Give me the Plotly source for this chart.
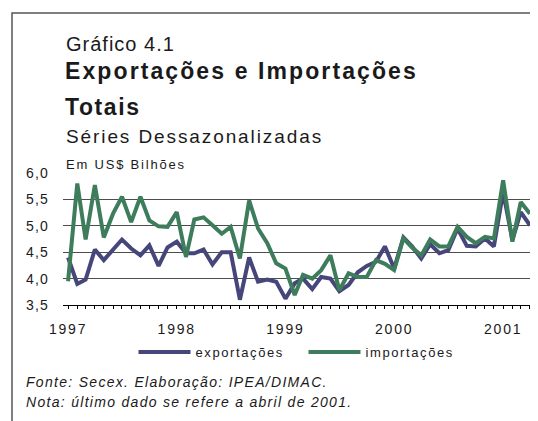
import plotly.graph_objects as go

# ---- data ----
months = [f"{y}-{m:02d}-01" for y in range(1997, 2002) for m in range(1, 13)][:52]

exportacoes = [4.40, 3.90, 3.98, 4.55, 4.35, 4.54, 4.74, 4.57, 4.44, 4.63, 4.24, 4.59,
               4.70, 4.48, 4.48, 4.55, 4.27, 4.50, 4.50, 3.60, 4.40, 3.94, 3.98, 3.94,
               3.62, 3.91, 4.00, 3.80, 4.03, 4.00, 3.76, 3.88, 4.12, 4.24, 4.32, 4.61,
               4.19, 4.78, 4.61, 4.38, 4.65, 4.48, 4.54, 4.95, 4.62, 4.61, 4.76, 4.61,
               5.64, 4.73, 5.26, 5.01]

importacoes = [3.95, 5.80, 4.74, 5.77, 4.78, 5.23, 5.55, 5.07, 5.55, 5.10, 4.99, 4.98,
               5.26, 4.41, 5.12, 5.16, 5.01, 4.85, 4.98, 4.38, 5.48, 4.95, 4.67, 4.29,
               4.19, 3.69, 4.07, 4.00, 4.16, 4.44, 3.78, 4.10, 4.03, 4.03, 4.35, 4.28,
               4.16, 4.76, 4.59, 4.44, 4.74, 4.61, 4.61, 4.98, 4.79, 4.67, 4.79, 4.76,
               5.86, 4.70, 5.45, 5.23]

series_names = ["exportações", "importações"]
y_tick_vals = [3.5, 4.0, 4.5, 5.0, 5.5, 6.0]
y_tick_labels = ["3,5", "4,0", "4,5", "5,0", "5,5", "6,0"]
x_tick_vals = ["1997-01-01", "1998-01-01", "1999-01-01", "2000-01-01", "2001-01-01"]
x_tick_labels = ["1997", "1998", "1999", "2000", "2001"]

FONT = "Liberation Sans, Arial, sans-serif"
C_EXP = "#47467B"
C_IMP = "#3D7D5B"


def sp(text, ls):
    return f'<span style="letter-spacing:{ls}px">{text}</span>'


fig = go.Figure()
fig.add_trace(go.Scatter(x=months, y=exportacoes, mode="lines", name=sp(series_names[0], 1.6),
                         line=dict(color=C_EXP, width=4)))
fig.add_trace(go.Scatter(x=months, y=importacoes, mode="lines", name=sp(series_names[1], 1.6),
                         line=dict(color=C_IMP, width=4)))

OFF = 8  # page body margin
W, H = 530, 413
L, R, T, B = 55, 3, 165, 116
PW, PH = W - L - R, H - T - B


def px(x):  # page x -> paper
    return (x - OFF - L) / PW


def py(y):  # page y -> paper
    return (H - B - (y - OFF)) / PH


fig.update_layout(
    width=W, height=H,
    margin=dict(l=L, r=R, t=T, b=B, pad=0),
    paper_bgcolor="white", plot_bgcolor="white",
    font=dict(family=FONT, color="#1a1a1a"),
    showlegend=True,
    legend=dict(orientation="h", x=px(303.5), xanchor="center", y=py(352), yanchor="middle",
                font=dict(size=13, color="#1a1a1a"), itemwidth=52,
                entrywidth=103, entrywidthmode="pixels",
                bgcolor="rgba(0,0,0,0)", tracegroupgap=0),
    xaxis=dict(type="date", range=["1996-12-15", "2001-04-18"],
               tickmode="array", tickvals=x_tick_vals,
               ticktext=[sp(t, 1.8) for t in x_tick_labels],
               ticks="outside", ticklen=3, tickcolor="black", tickwidth=1,
               showline=True, linecolor="black", linewidth=1,
               showgrid=False, zeroline=False,
               tickfont=dict(size=14, color="#1a1a1a"),
               ticklabelstandoff=8,
               minor=dict(tickmode="linear", tick0="1997-01-01", dtick="M1",
                          ticks="outside", ticklen=3, tickcolor="black", showgrid=False)),
    yaxis=dict(range=[3.5, 6.0], tickmode="array", tickvals=y_tick_vals,
               ticktext=[sp(t, 1.2) for t in y_tick_labels],
               showgrid=True, gridcolor="#4d4d4d", gridwidth=1,
               zeroline=False, showline=False, ticks="",
               tickfont=dict(size=14, color="#1a1a1a"),
               ticklabelstandoff=13),
)

annotations = [
    ("Gráfico 4.1", 64, 44, 20, 1.0, False, False),
    ("Exportações e Importações", 63, 71, 23, 2.1, True, False),
    ("Totais", 63, 107, 23, 1.6, True, False),
    ("Séries Dessazonalizadas", 64, 136.5, 19, 1.9, False, False),
    ("Em US$ Bilhões", 64, 164.5, 13, 1.8, False, False),
    ("Fonte: Secex. Elaboração: IPEA/DIMAC.", 24, 382, 14, 1.3, False, True),
    ("Nota: último dado se refere a abril de 2001.", 24, 402, 14, 1.3, False, True),
]
for text, x, y, size, ls, bold, italic in annotations:
    t = sp(text, ls)
    if bold:
        t = f"<b>{t}</b>"
    if italic:
        t = f"<i>{t}</i>"
    fig.add_annotation(text=t, xref="paper", yref="paper", x=px(x), y=py(y),
                       xanchor="left", yanchor="middle", showarrow=False,
                       font=dict(size=size, color="#1a1a1a", family=FONT))

# outer frame
fig.add_shape(type="rect", xref="paper", yref="paper",
              x0=px(12), x1=px(560), y0=py(13), y1=py(440),
              line=dict(color="#555555", width=1.5), fillcolor="rgba(0,0,0,0)", layer="above")

fig.write_html("out.html")
